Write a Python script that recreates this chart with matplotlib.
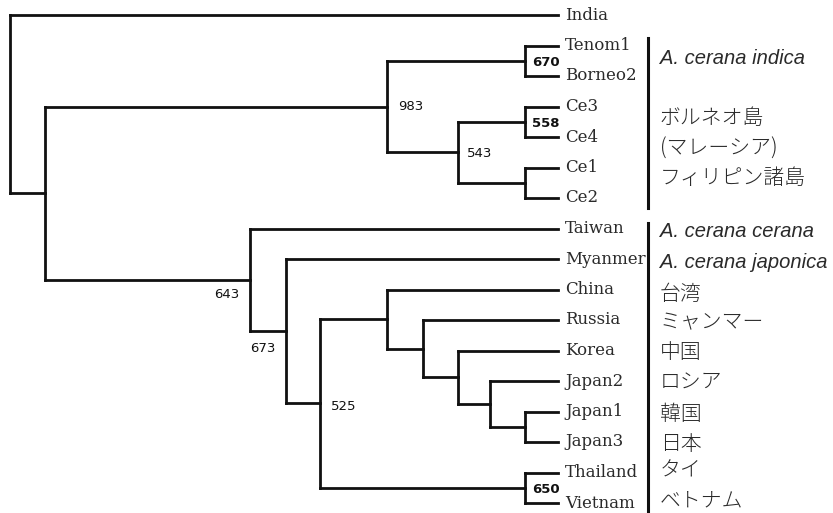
import matplotlib
matplotlib.use("Agg")
import matplotlib.pyplot as plt

# ---- data -------------------------------------------------------------
# leaf order (top to bottom)
leaves = ["India", "Tenom1", "Borneo2", "Ce3", "Ce4", "Ce1", "Ce2",
          "Taiwan", "Myanmer", "China", "Russia", "Korea",
          "Japan2", "Japan1", "Japan3", "Thailand", "Vietnam"]

tip_depth = 558  # all tips end at same depth (cladogram display)

# internal nodes: name -> depth, children
node_depth = {
    "root": 10, "A": 45, "C": 387, "TB": 525, "Ce": 458, "Ce34": 525,
    "Ce12": 525, "B": 250, "D": 286, "E": 320, "F": 387, "G": 423,
    "H": 458, "I": 490, "J": 525, "TV": 525,
}
node_children = {
    "root": ["India", "A"], "A": ["C", "B"], "C": ["TB", "Ce"],
    "TB": ["Tenom1", "Borneo2"], "Ce": ["Ce34", "Ce12"],
    "Ce34": ["Ce3", "Ce4"], "Ce12": ["Ce1", "Ce2"],
    "B": ["Taiwan", "D"], "D": ["Myanmer", "E"], "E": ["F", "TV"],
    "F": ["China", "G"], "G": ["Russia", "H"], "H": ["Korea", "I"],
    "I": ["Japan2", "J"], "J": ["Japan1", "Japan3"],
    "TV": ["Thailand", "Vietnam"],
}

# bootstrap values with label positions (x depth, y in leaf units)
boot_nodes = ["C", "TB", "Ce34", "Ce", "B", "D", "E", "TV"]
boot_values = [983, 670, 558, 543, 643, 673, 525, 650]
boot_x = [398, 532, 532, 467, 214, 250, 331, 532]
boot_y = [3.0, 1.55, 3.55, 4.55, 9.15, 10.95, 12.85, 15.55]
boot_bold = [False, True, True, False, False, False, False, True]

# right-hand group labels
group_bars = [(0.75, 6.33), (6.82, 16.25)]
group_labels = ["A. cerana indica", "ボルネオ島", "(マレーシア)", "フィリピン諸島",
                "A. cerana cerana", "A. cerana japonica", "台湾", "ミャンマー",
                "中国", "ロシア", "韓国", "日本", "タイ", "ベトナム"]
group_label_y = [1.42, 3.38, 4.38, 5.36, 7.1, 8.1, 9.15, 10.07, 11.05,
                 12.05, 13.08, 14.07, 14.95, 15.9]
group_italic = [True, False, False, False, True, True] + [False] * 8

# ---- drawing ----------------------------------------------------------
fig = plt.figure(figsize=(8.33, 5.13), dpi=100)
ax = fig.add_axes([0, 0, 1, 1])
ax.set_xlim(0, 833)
ax.set_ylim((513 - 15) / 30.5, (0 - 15) / 30.5)
ax.axis("off")

lw = 2.0
col = "#111111"
txtcol = "#2a2a2a"
ypos = {}
xpos = {}

def layout(name):
    if name in leaves:
        ypos[name] = leaves.index(name)
        xpos[name] = tip_depth
        return ypos[name]
    ys = [layout(c) for c in node_children[name]]
    ypos[name] = sum(ys) / len(ys)
    xpos[name] = node_depth[name]
    return ypos[name]

layout("root")

for n, ch in node_children.items():
    x = xpos[n]
    ys = [ypos[c] for c in ch]
    ax.plot([x, x], [min(ys), max(ys)], color=col, lw=lw,
            solid_capstyle="projecting")
    for c in ch:
        ax.plot([x, xpos[c]], [ypos[c], ypos[c]], color=col, lw=lw,
                solid_capstyle="projecting")

for name in leaves:
    ax.text(tip_depth + 7, ypos[name], name, family="DejaVu Serif",
            fontsize=12, va="center", ha="left", color=txtcol)

for v, x, y, b in zip(boot_values, boot_x, boot_y, boot_bold):
    ax.text(x, y, str(v), family="DejaVu Sans", fontsize=9.5,
            fontweight="bold" if b else "normal", va="center", ha="left",
            color="#111111")

for y0, y1 in group_bars:
    ax.plot([648, 648], [y0, y1], color=col, lw=2.2)

for t, y, it in zip(group_labels, group_label_y, group_italic):
    if it:
        ax.text(660, y, t, family="Liberation Sans", style="italic",
                fontsize=14.5, va="center", ha="left", color=txtcol)
    else:
        ax.text(660, y, t, family=["Noto Sans CJK JP", "DejaVu Sans"],
                fontsize=15, va="center", ha="left", color=txtcol,
                fontweight="light")

fig.savefig("out.png", dpi=100, facecolor="white")
